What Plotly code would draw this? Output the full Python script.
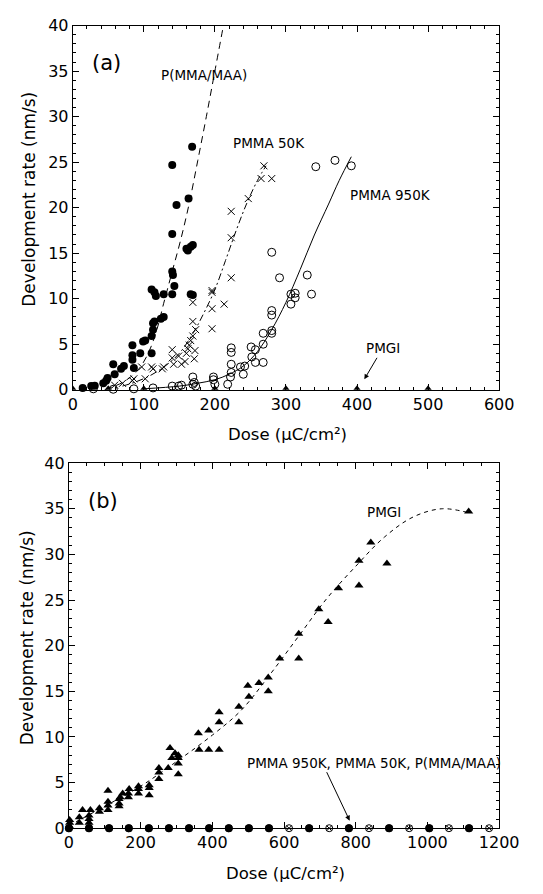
import plotly.graph_objects as go

# ---------------- Panel (a) data ----------------
pmaa_a_x = [14, 26, 31, 43, 47, 49, 57, 59, 68, 72, 84, 84, 84, 86, 95, 99, 102, 111, 111, 113, 113, 115,
            111, 115, 117, 124, 128, 128, 140, 140, 141, 143, 140, 146, 160, 162, 166, 169, 169, 166, 140, 168, 163]
pmaa_a_y = [0.2, 0.4, 0.45, 0.7, 1.0, 1.3, 2.8, 1.7, 2.3, 2.6, 4.9, 3.8, 3.3, 2.4, 4.0, 5.3, 5.4, 4.0, 5.9, 6.6, 7.3, 7.5,
            11.0, 10.7, 10.3, 7.8, 8.0, 10.5, 10.5, 13.0, 12.6, 11.4, 17.1, 20.3, 15.5, 15.3, 15.7, 15.9, 10.4, 10.5, 24.7, 26.7, 21.0]

p50_a_x = [59, 70, 84, 86, 97, 102, 111, 113, 126, 128, 140, 140, 142, 149, 153, 158, 160, 162, 164, 166, 169, 169, 169,
           171, 172, 173, 196, 196, 196, 196, 213, 223, 223, 223, 247, 265, 280, 269]
p50_a_y = [0.5, 0.7, 1.0, 1.2, 2.5, 1.2, 2.5, 2.3, 2.3, 2.5, 3.5, 4.4, 2.8, 3.7, 2.8, 3.1, 4.0, 4.5, 4.9, 5.4, 5.9, 7.5, 9.6,
           3.4, 4.3, 6.6, 6.7, 8.9, 10.9, 10.7, 9.4, 12.3, 16.7, 19.6, 21.0, 23.2, 23.2, 24.6]

p950_a_x = [29, 57, 86, 113, 140, 149, 153, 169, 169, 171, 173, 198, 200, 198, 218, 222, 223, 223, 223, 223, 236, 240, 242,
            251, 252, 257, 257, 268, 268, 268, 280, 280, 280, 280, 280, 291, 307, 313, 313, 307, 330, 336, 342, 369, 392]
p950_a_y = [0.1, 0.05, 0.1, 0.2, 0.4, 0.4, 0.5, 0.6, 1.4, 0.8, 0.4, 1.4, 0.6, 1.1, 0.6, 1.4, 1.9, 2.8, 4.1, 4.6, 2.5, 1.7, 2.6,
            4.7, 3.6, 4.4, 3.0, 6.2, 5.0, 3.0, 15.1, 8.7, 8.2, 6.5, 6.2, 12.3, 10.5, 10.6, 10.1, 9.4, 12.6, 10.5, 24.5, 25.2, 24.6]

pmgi_a_x = [0, 50, 100, 200, 300, 400, 500]
pmgi_a_y = [0, 0, 0, 0, 0, 0, 0]

# fitted curves
fit_pmaa_x = [45, 70, 90, 105, 118, 128, 140, 152, 164, 176, 188, 200, 212]
fit_pmaa_y = [0, 0.8, 2.0, 3.8, 6.5, 9.5, 13.0, 16.5, 20.5, 25.2, 30.0, 35.0, 40.0]

fit_p50_x = [70, 90, 110, 130, 150, 170, 185, 200, 215, 230, 245, 260, 272]
fit_p50_y = [0.4, 0.9, 1.6, 2.6, 4.0, 6.3, 8.5, 11.0, 14.2, 17.5, 20.5, 23.0, 24.6]

fit_p950_x = [100, 150, 175, 200, 220, 240, 260, 280, 300, 320, 340, 360, 375, 392]
fit_p950_y = [0.1, 0.4, 0.7, 1.1, 1.7, 2.6, 4.2, 6.6, 9.6, 13.2, 17.0, 20.4, 23.0, 25.6]

# ---------------- Panel (b) data ----------------
pmgi_b_x = [2, 2, 2, 29, 29, 38, 56, 56, 56, 60, 85, 85, 109, 109, 109, 109, 140, 140, 140, 143, 150, 166, 168, 166,
            194, 194, 194, 224, 224, 224, 251, 251, 251, 277, 282, 287, 296, 305, 305, 305, 305, 361, 363, 390, 390,
            419, 419, 419, 474, 474, 502, 499, 530, 556, 556, 588, 641, 641, 697, 723, 752, 809, 809, 842, 887, 1115]
pmgi_b_y = [0.2, 0.6, 0.9, 0.6, 1.2, 2.0, 0.6, 1.0, 1.4, 2.0, 1.8, 2.2, 2.0, 2.5, 2.9, 4.1, 2.4, 2.7, 3.2, 3.4, 3.8, 3.4, 4.3, 3.8,
            3.8, 4.6, 4.3, 3.6, 4.7, 4.4, 5.4, 6.1, 6.6, 6.6, 8.8, 7.7, 8.2, 8.0, 7.7, 7.1, 5.9, 10.4, 8.6, 10.7, 8.6,
            8.6, 11.6, 12.7, 13.3, 11.6, 14.4, 15.6, 15.9, 16.5, 15.0, 18.6, 18.6, 21.3, 24.0, 22.6, 26.3, 29.3, 26.6, 31.3, 29.0, 34.7]

pmaa_b_x = [0, 56, 112, 167, 223, 279, 335, 391, 446, 502, 558, 670, 781, 893, 1005, 1116]
pmaa_b_y = [0] * 16
pmma_b_x = [0, 56, 112, 167, 223, 279, 335, 391, 446, 502, 558, 614, 670, 726, 781, 837, 893, 949, 1005, 1060, 1116, 1172]
pmma_b_y = [0] * 22

fit_pmgi_x = [0, 100, 200, 300, 400, 480, 560, 640, 720, 800, 880, 960, 1040, 1111]
fit_pmgi_y = [0.3, 2.4, 4.6, 7.3, 10.2, 12.9, 16.8, 21.0, 25.2, 28.7, 31.9, 34.1, 35.0, 34.6]

FONT = "DejaVu Sans"
BLACK = "black"
X_TITLE = "Dose (μC/cm²)"
Y_TITLE = "Development rate (nm/s)"

fig = go.Figure()

# ---- panel (a) traces ----
fig.add_trace(go.Scatter(x=fit_pmaa_x, y=fit_pmaa_y, mode="lines", line=dict(color=BLACK, width=1, dash="7px,5px", shape="spline"),
                         xaxis="x", yaxis="y", hoverinfo="skip"))
fig.add_trace(go.Scatter(x=fit_p50_x, y=fit_p50_y, mode="lines", line=dict(color=BLACK, width=1, dash="7px,3px,2px,3px", shape="spline"),
                         xaxis="x", yaxis="y", hoverinfo="skip"))
fig.add_trace(go.Scatter(x=fit_p950_x, y=fit_p950_y, mode="lines", line=dict(color=BLACK, width=1, shape="spline"),
                         xaxis="x", yaxis="y", hoverinfo="skip"))
fig.add_trace(go.Scatter(x=pmaa_a_x, y=pmaa_a_y, mode="markers", name="P(MMA/MAA)",
                         marker=dict(symbol="circle", size=8, color=BLACK), cliponaxis=False, xaxis="x", yaxis="y"))
fig.add_trace(go.Scatter(x=p50_a_x, y=p50_a_y, mode="markers", name="PMMA 50K",
                         marker=dict(symbol="x-thin", size=7, line=dict(color=BLACK, width=1)), cliponaxis=False, xaxis="x", yaxis="y"))
fig.add_trace(go.Scatter(x=p950_a_x, y=p950_a_y, mode="markers", name="PMMA 950K",
                         marker=dict(symbol="circle-open", size=8, color=BLACK, line=dict(width=1)), cliponaxis=False, xaxis="x", yaxis="y"))
fig.add_trace(go.Scatter(x=pmgi_a_x, y=pmgi_a_y, mode="markers", name="PMGI",
                         marker=dict(symbol="triangle-up", size=9, color=BLACK), cliponaxis=True, xaxis="x", yaxis="y"))

# ---- panel (b) traces ----
fig.add_trace(go.Scatter(x=fit_pmgi_x, y=fit_pmgi_y, mode="lines", line=dict(color=BLACK, width=1, dash="4px,4px", shape="spline"),
                         xaxis="x2", yaxis="y2", hoverinfo="skip"))
fig.add_trace(go.Scatter(x=pmma_b_x, y=pmma_b_y, mode="markers", name="PMMA 950K",
                         marker=dict(symbol="circle-open", size=7, color=BLACK, line=dict(width=1)), cliponaxis=False, xaxis="x2", yaxis="y2"))
fig.add_trace(go.Scatter(x=pmma_b_x, y=pmma_b_y, mode="markers", name="PMMA 50K",
                         marker=dict(symbol="x-thin", size=5, line=dict(color=BLACK, width=1)), cliponaxis=False, xaxis="x2", yaxis="y2"))
fig.add_trace(go.Scatter(x=pmaa_b_x, y=pmaa_b_y, mode="markers", name="P(MMA/MAA)",
                         marker=dict(symbol="circle", size=8, color=BLACK), cliponaxis=False, xaxis="x2", yaxis="y2"))
fig.add_trace(go.Scatter(x=pmgi_b_x, y=pmgi_b_y, mode="markers", name="PMGI",
                         marker=dict(symbol="triangle-up", size=8, color=BLACK), cliponaxis=False, xaxis="x2", yaxis="y2"))

W, H = 543, 894

def ax_common(**kw):
    d = dict(showline=True, linecolor=BLACK, linewidth=1, mirror="allticks", ticks="inside", ticklen=6,
             tickwidth=1, tickcolor=BLACK, showgrid=False, zeroline=False,
             tickfont=dict(family=FONT, size=16, color=BLACK))
    d.update(kw)
    return d

fig.update_layout(
    width=W, height=H, margin=dict(l=0, r=0, t=0, b=0),
    paper_bgcolor="white", plot_bgcolor="white", showlegend=False,
    xaxis=ax_common(domain=[71 / W, 518 / W], range=[0, 600], dtick=100, anchor="y",
                    minor=dict(ticks="inside", ticklen=3, dtick=20, tickcolor=BLACK, tickwidth=1)),
    yaxis=ax_common(domain=[1 - 389 / H, 1 - 17 / H], range=[0, 40], dtick=5, anchor="x",
                    minor=dict(ticks="inside", ticklen=3, dtick=1, tickcolor=BLACK, tickwidth=1)),
    xaxis2=ax_common(domain=[67 / W, 518 / W], range=[0, 1200], dtick=200, anchor="y2",
                     minor=dict(ticks="inside", ticklen=3, dtick=50, tickcolor=BLACK, tickwidth=1)),
    yaxis2=ax_common(domain=[1 - 837 / H, 1 - 464 / H], range=[0, 40], dtick=5, anchor="x2",
                     minor=dict(ticks="inside", ticklen=3, dtick=1, tickcolor=BLACK, tickwidth=1)),
)

lab = dict(family=FONT, size=13.5, color=BLACK)
arrow = dict(showarrow=True, arrowhead=2, arrowsize=1, arrowwidth=1, arrowcolor=BLACK)
NB = "\u00a0"
ann = []
# panel (a) labels
ann.append(dict(x=48, y=35.9, xref="x", yref="y", text="(a)", showarrow=False, font=dict(family=FONT, size=21, color=BLACK)))
ann.append(dict(x=184, y=34.6, xref="x", yref="y", text="P(MMA/MAA)", showarrow=False, font=lab))
ann.append(dict(x=276.5, y=27.1, xref="x", yref="y", text="PMMA 50K", showarrow=False, font=lab))
ann.append(dict(x=447, y=21.4, xref="x", yref="y", text="PMMA 950K", showarrow=False, font=lab))
# PMGI label with arrow (text centred at ax/ay, arrow head at x/y)
ann.append(dict(x=410.3, y=1.15, xref="x", yref="y", ax=436, ay=4.55, axref="x", ayref="y", text="PMGI",
                font=lab, **arrow))
# panel (b) labels
ann.append(dict(x=94.5, y=35.8, xref="x2", yref="y2", text="(b)", showarrow=False, font=dict(family=FONT, size=21, color=BLACK)))
ann.append(dict(x=880, y=34.6, xref="x2", yref="y2", text="PMGI", showarrow=False, font=lab))
# label whose arrow starts left of its centre: leading no-break spaces shift the visible text right of the tail
ann.append(dict(x=783, y=0.83, xref="x2", yref="y2", ax=706.5, ay=7.18, axref="x2", ayref="y2",
                text=NB * 24 + "PMMA 950K, PMMA 50K, P(MMA/MAA)", xanchor="center", yanchor="middle",
                font=lab, **arrow))
# axis titles
xt = dict(family=FONT, size=16.5, color=BLACK)
yt = dict(family=FONT, size=17, color=BLACK)
common_t = dict(xref="paper", yref="paper", showarrow=False, xanchor="center", yanchor="middle")
ann.append(dict(x=296 / W, y=1 - 435 / H, text=X_TITLE, font=xt, **common_t))
ann.append(dict(x=294 / W, y=1 - 883 / H, text=X_TITLE, font=xt, **common_t))
ann.append(dict(x=25 / W, y=1 - 194 / H, text=Y_TITLE, textangle=-90, font=yt, **common_t))
ann.append(dict(x=23 / W, y=1 - 642 / H, text=Y_TITLE, textangle=-90, font=yt, **common_t))
fig.update_layout(annotations=ann)

# remove the default page margin so the 543x894 figure fills the window exactly
fig.write_html("out.html", post_script="document.body.style.margin='0';document.body.style.overflow='hidden';")
